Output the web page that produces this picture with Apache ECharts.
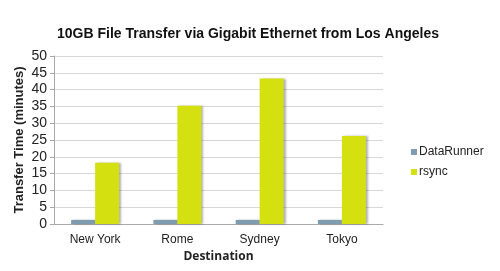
<!DOCTYPE html>
<html><head><meta charset="utf-8">
<script src="https://cdn.jsdelivr.net/npm/echarts@6/dist/echarts.min.js"></script>
<style>html,body{margin:0;padding:0;background:#fff}#c{width:500px;height:271px}</style>
</head><body><div id="c"></div>
<script>
const categories = ['New York', 'Rome', 'Sydney', 'Tokyo'];
const dataRunner = [1.2, 1.2, 1.2, 1.2];
const rsync = [18.2, 35.2, 43.3, 26.2];
const yTicks = [0, 5, 10, 15, 20, 25, 30, 35, 40, 45, 50];

const chart = echarts.init(document.getElementById('c'), null, {renderer: 'canvas'});
const shadow = {shadowColor: 'rgba(0,0,0,0.3)', shadowBlur: 2, shadowOffsetX: 2, shadowOffsetY: 0};
chart.setOption({
  animation: false,
  title: {
    text: '10GB File Transfer via Gigabit Ethernet from Los Angeles',
    left: 243, top: 22, textAlign: 'center',
    textStyle: {fontFamily: 'Liberation Sans', fontSize: 14, fontWeight: 'bold', color: '#111'}
  },
  legend: {
    orient: 'vertical', left: 406, top: 141, itemWidth: 6, itemHeight: 6, itemGap: 8,
    icon: 'rect',
    textStyle: {fontFamily: 'Liberation Sans', fontSize: 12, color: '#222', padding: [0, 0, 0, -3]},
    data: ['DataRunner', 'rsync']
  },
  grid: {left: 54, right: 117, top: 56, bottom: 47, outerBoundsMode: 'none'},
  xAxis: {
    type: 'category', data: categories,
    name: 'Destination', nameLocation: 'middle', nameGap: 26,
    nameTextStyle: {fontFamily: 'Open Sans', fontSize: 12, fontWeight: 'bold', color: '#222'},
    axisLine: {lineStyle: {color: '#aaa'}},
    axisTick: {show: false},
    axisLabel: {fontFamily: 'Liberation Sans', fontSize: 12, color: '#222', margin: 10}
  },
  yAxis: {
    type: 'value', min: yTicks[0], max: yTicks[yTicks.length - 1], interval: 5,
    name: 'Transfer Time (minutes)', nameLocation: 'middle', nameGap: 28, nameRotate: 90,
    nameMoveOverlap: false,
    nameTextStyle: {fontFamily: 'Liberation Sans', fontSize: 13, fontWeight: 'bold', color: '#222'},
    axisLine: {show: true, lineStyle: {color: '#aaa'}},
    axisTick: {show: true, length: 4, lineStyle: {color: '#aaa'}},
    splitLine: {lineStyle: {color: '#d8d8d8'}},
    axisLabel: {fontFamily: 'Liberation Sans', fontSize: 14, color: '#222', margin: 7}
  },
  series: [
    {name: 'DataRunner', type: 'bar', data: dataRunner, barWidth: 24, barGap: '0%',
     itemStyle: Object.assign({color: '#7f9bb0'}, shadow)},
    {name: 'rsync', type: 'bar', data: rsync, barWidth: 24,
     itemStyle: Object.assign({color: '#d4e010'}, shadow)}
  ]
});
</script></body></html>
